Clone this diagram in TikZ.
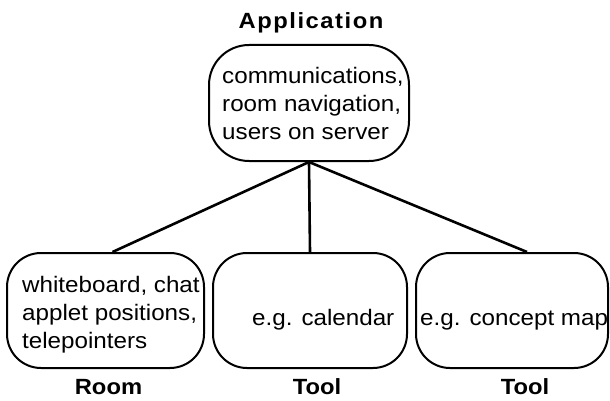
\documentclass[tikz,border=0pt]{standalone}
\usepackage{fontspec}
\setmainfont{Liberation Sans}[FakeStretch=1.08]
\begin{document}
\begin{tikzpicture}[x=1pt,y=-1pt,
  box/.style={draw=black, line width=2pt, rounded corners=34pt, inner sep=0pt},
  txt/.style={anchor=base west, inner sep=0pt, font=\fontsize{22.4}{28}\selectfont},
  ttl/.style={anchor=base, inner sep=0pt, font=\fontsize{22}{26}\selectfont\bfseries},
  conn/.style={draw=black, line width=2.6pt}]
\useasboundingbox[fill=white] (0,0) rectangle (610,401);
% boxes
\node[box, minimum width=200pt, minimum height=116pt, rounded corners=40pt] (app) at (309,103) {};
\node[box, minimum width=197pt, minimum height=115pt] (room) at (105.5,310.5) {};
\node[box, minimum width=194pt, minimum height=115pt] (tool1) at (310,310.5) {};
\node[box, minimum width=192pt, minimum height=115pt] (tool2) at (512,310.5) {};
% texts
\node[txt] (apptxt) at (222,84) {\begin{tabular}[t]{@{}l@{}}communications,\\room navigation,\\users on server\end{tabular}};
\node[txt] (roomtxt) at (22,292) {\begin{tabular}[t]{@{}l@{}}whiteboard, chat\\applet positions,\\telepointers\end{tabular}};
\node[txt] (tool1txt) at (252,325) {e.g. calendar};
\node[txt] (tool2txt) at (420,325) {e.g. concept map};
% titles
\node[ttl] (apptitle) at (311,29) {\addfontfeature{LetterSpace=7}Application};
\node[ttl] (roomtitle) at (108.5,394) {Room};
\node[ttl] (tool1title) at (317,394) {Tool};
\node[ttl] (tool2title) at (525,394) {Tool};
% connectors
\draw[conn] (app.south) -- ([xshift=7pt]room.north);
\draw[conn] (app.south) -- (tool1.north);
\draw[conn] (app.south) -- ([xshift=15pt]tool2.north);
\end{tikzpicture}
\end{document}
